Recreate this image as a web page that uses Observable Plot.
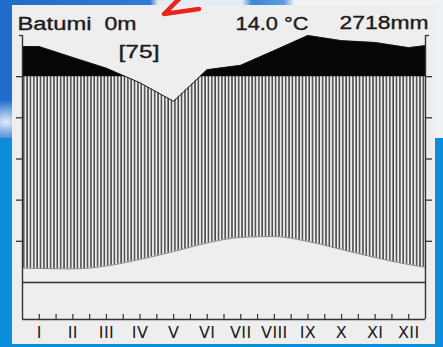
<!DOCTYPE html>
<html>
<head>
<meta charset="utf-8">
<script src="https://cdn.jsdelivr.net/npm/d3@7"></script>
<script src="https://cdn.jsdelivr.net/npm/@observablehq/plot@0.6"></script>
<style>
html, body { margin: 0; padding: 0; }
body { width: 443px; height: 347px; overflow: hidden; position: relative; background: #0b8ddb; }
#top { position: absolute; left: 0; top: 0; width: 443px; height: 138px;
  background:
    radial-gradient(ellipse 30px 22px at 6px 122px, rgba(235,242,250,0.95), rgba(235,242,250,0) 100%),
    linear-gradient(90deg, #1f6ccc 0px, #2e7ad6 150px, #e6ecf4 158px, #e6ecf4 242px, #3a84d8 252px, #5d9ce0 284px, #eef1f5 294px, #eef1f5 100%);
}
#panel { position: absolute; left: 12px; top: 5px; width: 423px; height: 339px; background: #eeeeee; }
#chart { position: absolute; left: 0; top: 0; }
#arrow { position: absolute; left: 0; top: 0; }
</style>
</head>
<body>
<div id="top"></div>
<div id="panel"></div>
<div id="chart"></div>
<svg id="arrow" width="443" height="30"><path d="M180,-2 L164,14 L199,9" fill="none" stroke="#e8241c" stroke-width="4.5" stroke-linecap="round" stroke-linejoin="round"/></svg>
<script>
// ---- data ----
const months = [1, 2, 3, 4, 5, 6, 7, 8, 9, 10, 11, 12];
const monthLabels = ["I", "II", "III", "IV", "V", "VI", "VII", "VIII", "IX", "X", "XI", "XII"];
const temperature = [6.8, 6.6, 8.0, 11.2, 15.0, 19.2, 21.9, 22.3, 19.9, 16.0, 12.1, 8.7];      // °C
const precipitation = [246, 193, 141, 97, 88, 134, 155, 227, 300, 275, 266, 241];             // mm
const temperatureEdges = [7.0, 7.4];   // curve at the left / right border
const precipitationEdges = [246, 251];
const yTicks = [20, 40, 60, 80, 100];
const stationName = "Batumi";
const elevation = "0m";
const years = "[75]";
const meanTemperature = "14.0 °C";
const annualPrecipitation = "2718mm";

// ---- diagram conventions ----
const threshold = 100;                      // mm: above it the scale is compressed 10x
const toUnits = mm => mm <= threshold ? mm : threshold + (mm - threshold) / 10;
const xDomain = [0.5, 12.5];
const yDomain = [-18, 120];
const bg = "#eeeeee";
const ink = "#333333";
const textInk = "#1b1b1b";

const precipSeries = [
  {x: xDomain[0], mm: precipitationEdges[0]},
  ...months.map((m, i) => ({x: m, mm: precipitation[i]})),
  {x: xDomain[1], mm: precipitationEdges[1]}
].map(d => ({...d, u: toUnits(d.mm)}));

const tempSeries = [
  {x: xDomain[0], t: temperatureEdges[0]},
  ...months.map((m, i) => ({x: m, t: temperature[i]})),
  {x: xDomain[1], t: temperatureEdges[1]}
];

const halfTicks = months.flatMap(m => m < 12 ? [m, m + 0.5] : [m]);

const W = 443, H = 347, mL = 22, mR = 18, mT = 35, mB = 28;
const titleStyle = {frameAnchor: "top-left", textAnchor: "start", lineAnchor: "middle",
  fontSize: 18, fontFamily: "Liberation Sans", fill: textInk, stroke: textInk, strokeWidth: 0.35};
// header labels with their placement and widths as measured on the reference
const headers = [
  {label: stationName, dx: -5, dy: -11, width: 74},
  {label: elevation, dx: 82, dy: -11, width: 32},
  {label: meanTemperature, dx: 213, dy: -11, width: 73},
  {label: annualPrecipitation, dx: 317, dy: -12, width: 89},
  {label: years, dx: 96, dy: 16.5, width: 41}
];

const chart = Plot.plot({
  width: W, height: H,
  marginLeft: mL, marginRight: mR, marginTop: mT, marginBottom: mB,
  x: {type: "linear", domain: xDomain},
  y: {type: "linear", domain: yDomain},
  style: {background: "transparent", fontFamily: "DejaVu Sans", fontSize: "16px", color: ink, overflow: "visible"},
  marks: [
    Plot.areaY(precipSeries, {x: "x", y1: 0, y2: "u", fill: "#060606"}),
    Plot.areaY(precipSeries, {x: "x", y1: 0, y2: () => toUnits(threshold), fill: "url(#hatch)"}),
    Plot.areaY(precipSeries, {x: "x", y1: "u", y2: () => yDomain[1], fill: bg}),
    Plot.areaY(tempSeries, {x: "x", y1: 0, y2: "t", fill: bg, curve: "monotone-x"}),
    Plot.line(tempSeries, {x: "x", y: "t", stroke: "#6e6e6e", strokeWidth: 0.8, curve: "monotone-x"}),
    Plot.line(precipSeries, {x: "x", y: "u", stroke: "#1a1a1a", strokeWidth: 1}),
    Plot.ruleY([0], {stroke: ink, strokeWidth: 1.6}),
    Plot.ruleX(xDomain, {y1: yDomain[0], y2: yDomain[1], stroke: ink, strokeWidth: 1.4}),
    Plot.ruleY([yDomain[0]], {stroke: ink, strokeWidth: 1.6}),
    Plot.tickX(halfTicks, {x: d => d, insetTop: H - mT - mB - 5, stroke: ink, strokeWidth: 1.2}),
    Plot.axisX(months, {anchor: "bottom", tickSize: 0, tickPadding: 7, tickFormat: d => monthLabels[d - 1],
      fontSize: 16, fill: textInk, stroke: textInk, strokeWidth: 0.3, label: null}),
    Plot.axisY(yTicks, {anchor: "left", tickSize: 6, tickFormat: () => "", label: null, stroke: ink, strokeWidth: 1.3}),
    Plot.axisY(yTicks, {anchor: "right", tickSize: 6, tickFormat: () => "", label: null, stroke: ink, strokeWidth: 1.3}),
    Plot.axisY([yDomain[1]], {anchor: "left", tickSize: 3, tickFormat: () => "", label: null, stroke: ink, strokeWidth: 1.3}),
    Plot.axisY([yDomain[1]], {anchor: "right", tickSize: 3, tickFormat: () => "", label: null, stroke: ink, strokeWidth: 1.3}),
    ...headers.map(h => Plot.text([h.label], {...titleStyle, text: d => d, dx: h.dx, dy: h.dy}))
  ]
});

// hatch pattern: ten vertical lines per month, aligned on the x scale
const xr = chart.scale("x").range;
const step = (xr[1] - xr[0]) / (months.length * 10);
const defs = d3.select(chart).insert("defs", ":first-child");
const pat = defs.append("pattern").attr("id", "hatch").attr("patternUnits", "userSpaceOnUse")
  .attr("x", xr[0]).attr("y", 0).attr("width", step).attr("height", 10);
pat.append("rect").attr("width", step).attr("height", 10).attr("fill", bg);
pat.append("rect").attr("x", step * 0.3).attr("width", 1.5).attr("height", 10).attr("fill", "#454545");

d3.select(chart).selectAll('g[aria-label="x-axis tick label"] text').attr("letter-spacing", "0.4px");

// stretch each header label to its reference width
Array.from(chart.querySelectorAll("text")).forEach(t => {
  const h = headers.find(h => h.label === t.textContent);
  if (!h) return;
  t.setAttribute("textLength", h.width);
  t.setAttribute("lengthAdjust", "spacingAndGlyphs");
});

document.getElementById("chart").appendChild(chart);
</script>
</body>
</html>
